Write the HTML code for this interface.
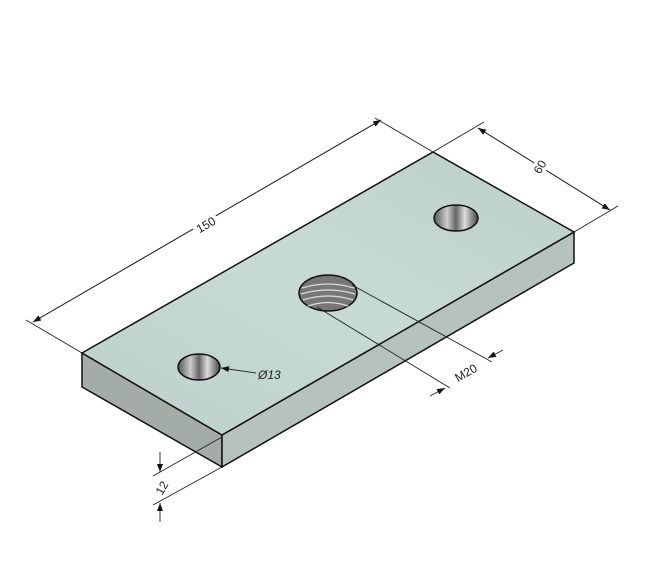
<!DOCTYPE html>
<html><head><style>
html,body{margin:0;padding:0;background:#fff;}
svg{display:block;}
text{font-family:"Liberation Sans",sans-serif;font-size:12px;fill:#222;}
</style></head><body>
<svg width="649" height="577" viewBox="0 0 649 577" xmlns="http://www.w3.org/2000/svg">
<defs>
<linearGradient id="top" x1="0" y1="1" x2="1" y2="0">
<stop offset="0" stop-color="#bcd0cb"/><stop offset="0.5" stop-color="#c8dad6"/><stop offset="1" stop-color="#bccfca"/>
</linearGradient>
<linearGradient id="hole" x1="0" y1="0" x2="1" y2="0">
<stop offset="0" stop-color="#555"/><stop offset="0.3" stop-color="#ccc"/><stop offset="0.5" stop-color="#666"/><stop offset="0.7" stop-color="#ddd"/><stop offset="1" stop-color="#444"/>
</linearGradient>
<marker id="ar" markerWidth="8" markerHeight="6" refX="8" refY="3" orient="auto" markerUnits="userSpaceOnUse">
<path d="M0,0 L8,3 L0,6 z" fill="#111"/></marker>
</defs>
<!-- faces -->
<polygon points="82,353 222,435 222,467 82,387" fill="#a3aca7" stroke="#111" stroke-width="1.5"/>
<polygon points="222,435 574,232 574,263 222,467" fill="#b5c2bd" stroke="#111" stroke-width="1.5"/>
<polygon points="82,353 433,152 574,232 222,435" fill="url(#top)" stroke="#111" stroke-width="1.5"/>
<!-- holes -->
<ellipse cx="199" cy="367" rx="21" ry="13" fill="url(#hole)" stroke="#111" stroke-width="1.5"/>
<ellipse cx="456" cy="218" rx="22" ry="13" fill="url(#hole)" stroke="#111" stroke-width="1.5"/>
<ellipse cx="328" cy="293" rx="29" ry="18" fill="#777" stroke="#111" stroke-width="1.5"/>
<g stroke="#ddd" stroke-width="1.2" fill="none">
<path d="M302,288 Q328,280 354,288"/><path d="M301,294 Q328,286 355,294"/><path d="M303,300 Q328,292 353,300"/><path d="M308,306 Q328,299 348,306"/>
</g>
<g stroke="#222" stroke-width="0.9" fill="none">
<!-- 150 -->
<line x1="82" y1="353" x2="26" y2="320"/>
<line x1="433" y1="152" x2="375" y2="118"/>
<line x1="33" y1="322" x2="381" y2="120" marker-end="url(#ar)"/>
<line x1="381" y1="120" x2="33" y2="322" marker-end="url(#ar)"/>
<!-- 60 -->
<line x1="433" y1="152" x2="484" y2="122"/>
<line x1="574" y1="232" x2="618" y2="206"/>
<line x1="478" y1="128" x2="610" y2="210" marker-end="url(#ar)"/>
<line x1="610" y1="210" x2="478" y2="128" marker-end="url(#ar)"/>
<!-- M20 -->
<line x1="352" y1="285" x2="492" y2="362"/>
<line x1="317" y1="307" x2="450" y2="388"/>
<line x1="503" y1="350" x2="488" y2="358" marker-end="url(#ar)"/>
<line x1="430" y1="396" x2="445" y2="388" marker-end="url(#ar)"/>
<!-- Ø13 leader -->
<line x1="256" y1="373" x2="221" y2="368" marker-end="url(#ar)"/>
<!-- 12 -->
<line x1="222" y1="437" x2="153" y2="476"/>
<line x1="222" y1="467" x2="153" y2="505"/>
<line x1="160" y1="452" x2="160" y2="472" marker-end="url(#ar)"/>
<line x1="160" y1="522" x2="160" y2="503" marker-end="url(#ar)"/>
</g>
<rect x="193" y="218" width="26" height="14" fill="#fff" transform="rotate(-30 206 225)"/>
<text x="206" y="229" text-anchor="middle" transform="rotate(-30 206 225)">150</text>
<rect x="530" y="160" width="20" height="14" fill="#fff" transform="rotate(-60 540 167)"/>
<text x="540" y="171" text-anchor="middle" transform="rotate(-60 540 167)">60</text>
<text x="466" y="377" text-anchor="middle" transform="rotate(-30 466 373)">M20</text>
<text x="258" y="379" font-style="italic">Ø13</text>
<text x="162" y="492" text-anchor="middle" transform="rotate(-60 162 488)">12</text>
</svg>
</body></html>
